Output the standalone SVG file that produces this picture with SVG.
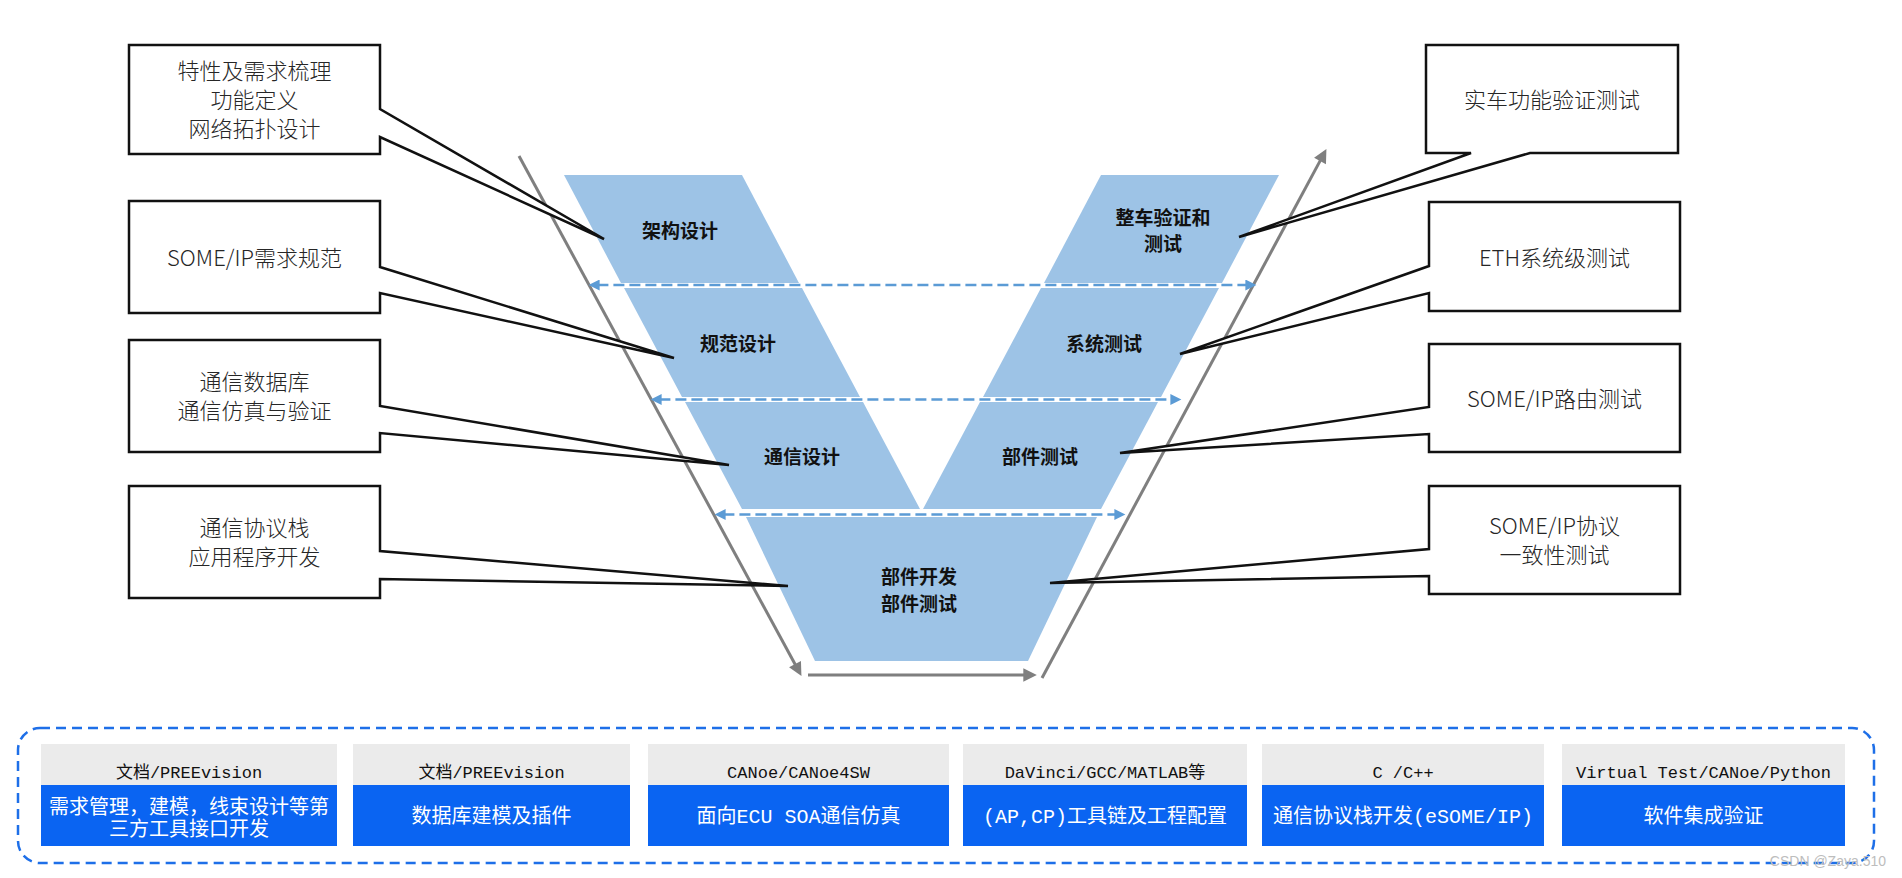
<svg xmlns="http://www.w3.org/2000/svg" width="1902" height="878" viewBox="0 0 1902 878">
<style>
.band{fill:#9DC3E6}
.bx{font-family:"Noto Sans CJK SC","Noto Sans",sans-serif;font-size:22px;font-weight:300;fill:#262626;text-anchor:middle}
.co{fill:#ffffff;stroke:#111;stroke-width:2.5;stroke-linejoin:miter}
.vt{font-family:"Noto Sans CJK SC","Noto Sans",sans-serif;font-size:19px;font-weight:700;fill:#111;text-anchor:middle}
.gl{stroke:#7F7F7F;stroke-width:3;fill:none}
.dl{stroke:#5B9BD5;stroke-width:2.5;stroke-dasharray:11 5;fill:none}
.hdr{fill:#EBEBEB}
.bdy{fill:#0A64F2}
.hd{font-family:"Liberation Mono","Noto Sans CJK SC",monospace;font-size:17px;fill:#111;text-anchor:middle}
.bd{font-family:"Liberation Mono","Noto Sans CJK SC",monospace;font-size:20px;fill:#fff;text-anchor:middle}
</style>
<defs>
<marker id="ag" viewBox="0 0 10 10" refX="2" refY="5" markerWidth="5" markerHeight="4.5" orient="auto" markerUnits="strokeWidth">
<path d="M0,0 L10,5 L0,10 z" fill="#7F7F7F"/>
</marker>
<marker id="ab" viewBox="0 0 10 10" refX="2" refY="5" markerWidth="5.2" markerHeight="4.4" orient="auto-start-reverse" markerUnits="strokeWidth">
<path d="M0,0 L10,5 L0,10 z" fill="#5B9BD5"/>
</marker>
</defs>
<rect width="1902" height="878" fill="#ffffff"/>

<!-- V bands -->
<g id="v-bands">
<g id="band-arch"><polygon class="band" points="564,175 742,175 799,283 621,283"/><text class="vt" x="680" y="238">架构设计</text></g>
<g id="band-spec"><polygon class="band" points="624,288 802,288 860,397 682,397"/><text class="vt" x="738" y="351">规范设计</text></g>
<g id="band-comm"><polygon class="band" points="685,402 863,402 920,509 742,509"/><text class="vt" x="802" y="464">通信设计</text></g>
<g id="band-vehicle"><polygon class="band" points="1101,175 1279,175 1222,283 1044,283"/><text class="vt" x="1163" y="225">整车验证和</text><text class="vt" x="1163" y="251">测试</text></g>
<g id="band-system"><polygon class="band" points="1041,288 1219,288 1161,397 983,397"/><text class="vt" x="1104" y="351">系统测试</text></g>
<g id="band-part"><polygon class="band" points="980,402 1158,402 1101,509 923,509"/><text class="vt" x="1040" y="464">部件测试</text></g>
<g id="band-dev"><polygon class="band" points="746,517 1097,517 1028,661 815,661"/><text class="vt" x="919" y="584">部件开发</text><text class="vt" x="919" y="611">部件测试</text></g>
</g>

<!-- connectors -->
<g id="connectors">
<line class="gl" x1="519" y1="156" x2="796.3" y2="666.5" marker-end="url(#ag)"/>
<line class="gl" x1="808" y1="675" x2="1026" y2="675" marker-end="url(#ag)"/>
<line class="gl" x1="1042" y1="678" x2="1321.3" y2="158.6" marker-end="url(#ag)"/>
<line class="dl" x1="597.4" y1="285" x2="1247.6" y2="285" marker-start="url(#ab)" marker-end="url(#ab)"/>
<line class="dl" x1="659.4" y1="399.5" x2="1172.6" y2="399.5" marker-start="url(#ab)" marker-end="url(#ab)"/>
<line class="dl" x1="723.4" y1="514.5" x2="1116.6" y2="514.5" marker-start="url(#ab)" marker-end="url(#ab)"/>
</g>

<!-- callout boxes left -->
<g id="box-l1"><polygon class="co" points="129,45 380,45 380,109 604,239 380,137 380,154 129,154"/>
<text class="bx" x="254.5" y="79">特性及需求梳理</text><text class="bx" x="254.5" y="108">功能定义</text><text class="bx" x="254.5" y="137">网络拓扑设计</text></g>
<g id="box-l2"><polygon class="co" points="129,201 380,201 380,267 674,358 380,293 380,313 129,313"/>
<text class="bx" x="254.5" y="266">SOME/IP需求规范</text></g>
<g id="box-l3"><polygon class="co" points="129,340 380,340 380,406 729,465 380,433 380,452 129,452"/>
<text class="bx" x="254.5" y="390">通信数据库</text><text class="bx" x="254.5" y="419">通信仿真与验证</text></g>
<g id="box-l4"><polygon class="co" points="129,486 380,486 380,551 788,586 380,579 380,598 129,598"/>
<text class="bx" x="254.5" y="536">通信协议栈</text><text class="bx" x="254.5" y="565">应用程序开发</text></g>

<!-- callout boxes right -->
<g id="box-r1"><polygon class="co" points="1426,45 1678,45 1678,153 1530,153 1239,237 1471,153 1426,153"/>
<text class="bx" x="1552" y="108">实车功能验证测试</text></g>
<g id="box-r2"><polygon class="co" points="1429,202 1680,202 1680,311 1429,311 1429,293 1180,354 1429,266"/>
<text class="bx" x="1554.5" y="266">ETH系统级测试</text></g>
<g id="box-r3"><polygon class="co" points="1429,344 1680,344 1680,452 1429,452 1429,434 1120,453 1429,407"/>
<text class="bx" x="1554.5" y="407">SOME/IP路由测试</text></g>
<g id="box-r4"><polygon class="co" points="1429,486 1680,486 1680,594 1429,594 1429,576 1050,583 1429,549"/>
<text class="bx" x="1554.5" y="534">SOME/IP协议</text><text class="bx" x="1554.5" y="563">一致性测试</text></g>

<!-- tools panel -->
<g id="tools-panel">
<rect x="18" y="728" width="1856" height="135" rx="22" ry="22" fill="none" stroke="#1E6FE8" stroke-width="2.5" stroke-dasharray="10 6"/>
</g>
<g id="tool-1"><rect class="hdr" x="41" y="744" width="296" height="41"/><rect class="bdy" x="41" y="785" width="296" height="61"/>
<text class="hd" x="189" y="778">文档/PREEvision</text>
<text class="bd" x="189" y="814">需求管理，建模，线束设计等第</text><text class="bd" x="189" y="836">三方工具接口开发</text></g>
<g id="tool-2"><rect class="hdr" x="353" y="744" width="277" height="41"/><rect class="bdy" x="353" y="785" width="277" height="61"/>
<text class="hd" x="491.5" y="778">文档/PREEvision</text><text class="bd" x="491.5" y="823">数据库建模及插件</text></g>
<g id="tool-3"><rect class="hdr" x="648" y="744" width="301" height="41"/><rect class="bdy" x="648" y="785" width="301" height="61"/>
<text class="hd" x="798.5" y="778">CANoe/CANoe4SW</text><text class="bd" x="798.5" y="823">面向ECU SOA通信仿真</text></g>
<g id="tool-4"><rect class="hdr" x="963" y="744" width="284" height="41"/><rect class="bdy" x="963" y="785" width="284" height="61"/>
<text class="hd" x="1105" y="778">DaVinci/GCC/MATLAB等</text><text class="bd" x="1105" y="823">(AP,CP)工具链及工程配置</text></g>
<g id="tool-5"><rect class="hdr" x="1262" y="744" width="282" height="41"/><rect class="bdy" x="1262" y="785" width="282" height="61"/>
<text class="hd" x="1403" y="778">C /C++</text><text class="bd" x="1403" y="823">通信协议栈开发(eSOME/IP)</text></g>
<g id="tool-6"><rect class="hdr" x="1562" y="744" width="283" height="41"/><rect class="bdy" x="1562" y="785" width="283" height="61"/>
<text class="hd" x="1703.5" y="778">Virtual Test/CANoe/Python</text><text class="bd" x="1703.5" y="823">软件集成验证</text></g>

<text x="1886" y="866" text-anchor="end" font-family="'Liberation Sans',sans-serif" font-size="14" fill="#BDBDBD">CSDN @Zaya.510</text>
</svg>
